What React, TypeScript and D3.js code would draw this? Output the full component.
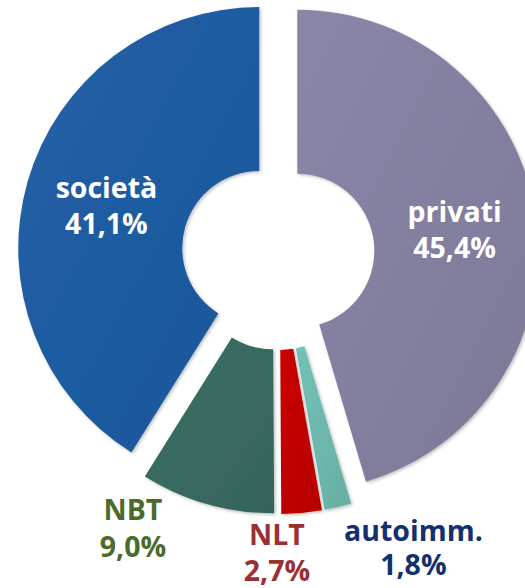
import React, { useEffect, useRef } from 'react';
import * as d3 from 'd3';

// slices in clockwise order from 12 o'clock
const categories = ['privati', 'autoimm.', 'NLT', 'NBT', 'società'];
const shares = [45.4, 1.8, 2.7, 9.0, 41.1];
const sliceColors = ['#837f9f', '#6db8ad', '#c00000', '#386a60', '#1f5ba0'];
const labelColors = ['#ffffff', '#13306f', '#9a3032', '#4a6b2a', '#ffffff'];

export default function App() {
    const ref = useRef<SVGSVGElement | null>(null);

    useEffect(() => {
        document.body.style.margin = '0';
        if (!ref.current) return;
        const svg = d3.select(ref.current);
        svg.selectAll('*').remove();

        const cx = 278, cy = 253.5;
        const outerR = 241, innerR = 77;
        const explode = 19.5;

        const data = categories.map((c, i) => ({ name: c, value: shares[i], color: sliceColors[i], label: labelColors[i] }));

        const pie = d3.pie<any>().sort(null).value(d => d.value).startAngle(0).endAngle(2 * Math.PI);
        const arcs = pie(data);
        const arc = d3.arc<any>().innerRadius(innerR).outerRadius(outerR);

        const defs = svg.append('defs');
        const shadow = defs.append('filter').attr('id', 'sh')
            .attr('x', '-10%').attr('y', '-10%').attr('width', '120%').attr('height', '120%');
        shadow.append('feDropShadow').attr('dx', 1.5).attr('dy', 1.5).attr('stdDeviation', 1.5)
            .attr('flood-color', '#000').attr('flood-opacity', 0.25);

        data.forEach((d, i) => {
            const g = defs.append('linearGradient').attr('id', 'g' + i)
                .attr('x1', '0').attr('y1', '0').attr('x2', '1').attr('y2', '1');
            const c = d3.color(d.color)!;
            g.append('stop').attr('offset', '0%').attr('stop-color', c.brighter(0.15).formatHex());
            g.append('stop').attr('offset', '100%').attr('stop-color', c.darker(0.15).formatHex());
        });

        const root = svg.append('g').attr('transform', `translate(${cx},${cy})`);

        const offset = (a: any) => {
            const mid = (a.startAngle + a.endAngle) / 2;
            return [Math.sin(mid) * explode, -Math.cos(mid) * explode];
        };

        root.selectAll('path.slice')
            .data(arcs)
            .enter()
            .append('path')
            .attr('class', 'slice')
            .attr('transform', a => { const [dx, dy] = offset(a); return `translate(${dx},${dy})`; })
            .attr('d', arc)
            .attr('fill', (a, i) => `url(#g${i})`)
            .attr('filter', 'url(#sh)');

        // label placement: centroid for the big slices, polar spot outside for the small ones
        const outside: Record<string, { angle: number; r: number; gap: number }> = {
            'autoimm.': { angle: 154.8, r: 318, gap: 34 },
            'NLT': { angle: 180.2, r: 292, gap: 36 },
            'NBT': { angle: 208.6, r: 303, gap: 37 },
        };

        arcs.forEach((a) => {
            const d = a.data;
            let x: number, y: number, gap = 36;
            const pct = d.value.toFixed(1).replace('.', ',') + '%';
            if (outside[d.name]) {
                const o = outside[d.name];
                const t = o.angle * Math.PI / 180;
                x = Math.sin(t) * o.r;
                y = -Math.cos(t) * o.r;
                gap = o.gap;
            } else {
                const [dx, dy] = offset(a);
                const c = arc.centroid(a);
                x = c[0] + dx;
                y = c[1] + dy - 6;
            }
            const t = root.append('text')
                .attr('x', x).attr('y', y)
                .attr('text-anchor', 'middle')
                .style('font-family', '"Open Sans", "DejaVu Sans", sans-serif')
                .style('font-weight', 'bold')
                .style('font-size', '28.5px')
                .style('fill', d.label);
            t.append('tspan').attr('x', x).attr('y', y).text(d.name);
            t.append('tspan').attr('x', x).attr('y', y + gap).text(pct);
        });
    }, []);

    return <svg ref={ref} width={525} height={588} style={{ display: 'block', background: '#fff' }} />;
}
